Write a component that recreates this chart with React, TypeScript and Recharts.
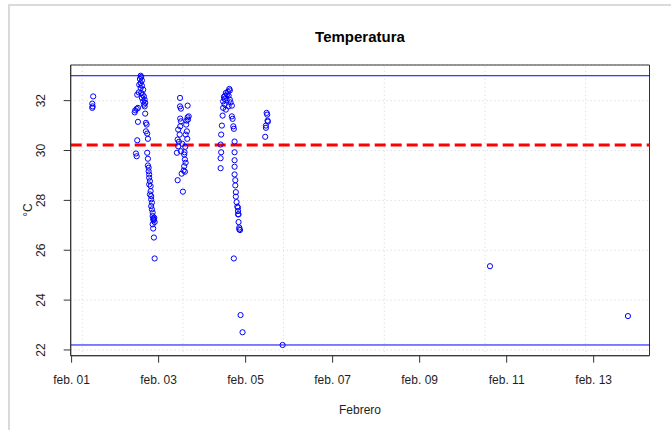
import React from 'react';
import {
  ScatterChart,
  Scatter,
  XAxis,
  YAxis,
  CartesianGrid,
  ReferenceLine,
  ReferenceArea,
} from 'recharts';

// hours since feb. 01 00:00, temperatures in °C
const feb01Hours = [11.9, 11.4, 11.6, 11.4];
const feb01Temps = [32.17, 31.88, 31.77, 31.71];

const feb02Hours = [
  38.1, 38.4, 37.7, 38.8, 38.1, 37.3, 38.8, 38.1, 39.5, 37.0, 36.2, 38.4, 39.2, 39.9, 38.8, 40.3, 39.5, 40.6, 39.9, 40.3,
  35.1, 34.8, 35.9, 36.6, 36.6, 36.2, 35.5, 35.9,
  40.6, 41.0, 41.4, 41.0, 41.7, 42.1, 41.7, 42.1, 42.1, 42.5, 42.5, 42.8, 42.8, 43.2, 42.8, 43.6, 43.6, 43.2, 43.9, 43.9,
  44.3, 43.9, 44.3, 44.7, 44.7, 45.0, 45.4, 45.8, 44.7, 45.0, 45.4, 45.8, 45.2, 45.6,
];
const feb02Temps = [
  33.0, 32.95, 32.87, 32.81, 32.71, 32.64, 32.6, 32.51, 32.44, 32.33, 32.24, 32.31, 32.24, 32.17, 32.11, 32.04, 31.97, 31.91, 31.84, 31.77,
  31.61, 31.53, 31.67, 31.71, 31.15, 30.41, 29.88, 29.77,
  31.48, 31.11, 31.04, 30.77, 30.68, 30.47, 29.91, 29.67, 29.4, 29.31, 29.17, 29.04, 28.91, 28.77, 28.64, 28.57, 28.37, 28.24, 28.17, 28.04,
  27.91, 27.77, 27.64, 27.51, 27.37, 27.27, 27.24, 27.13, 27.04, 26.87, 26.51, 25.67, 27.2, 27.3,
];

const feb03Hours = [
  59.8, 59.8, 60.3, 64.0, 59.9, 60.3, 64.0, 63.4, 59.9, 63.2, 58.8, 63.6, 59.6, 62.9, 58.5, 59.2, 58.8,
  61.0, 58.1, 60.3, 62.1, 62.5, 62.9, 62.1, 61.8, 62.5, 60.7, 58.5, 61.4, 64.6, 64.2, 63.8, 62.7, 62.3,
];
const feb03Temps = [
  32.11, 31.77, 31.68, 31.8, 31.28, 31.17, 31.33, 31.2, 30.97, 31.04, 30.84, 30.77, 30.64, 30.64, 30.44, 30.35, 30.17,
  30.27, 29.91, 29.97, 29.84, 29.64, 29.51, 29.37, 29.2, 29.15, 29.07, 28.81, 28.35, 31.37, 31.24, 30.47, 30.15, 29.93,
];

const feb04Hours = [
  87.0, 87.3, 86.2, 85.1, 85.8, 84.7, 84.0, 86.6, 84.4, 85.5, 83.6, 87.3, 87.7, 84.4, 88.4, 86.6, 83.6, 85.1,
  88.4, 88.8, 83.3, 82.9, 89.2, 89.5, 82.5, 82.2, 89.9, 82.5, 82.2, 82.2, 89.9, 89.9, 89.9, 89.9, 90.3, 90.3,
  90.6, 90.6, 91.0, 91.4, 91.8, 91.8, 92.1, 92.5, 92.5, 92.9, 91.8, 92.1, 89.5, 93.2, 94.3,
];
const feb04Temps = [
  32.47, 32.41, 32.36, 32.31, 32.25, 32.2, 32.15, 32.2, 32.07, 32.01, 31.97, 32.04, 31.93, 31.85, 31.8, 31.77, 31.71, 31.64,
  31.37, 31.27, 31.4, 31.0, 30.97, 30.87, 30.64, 30.24, 30.36, 29.93, 29.69, 29.29, 29.93, 29.61, 29.35, 29.04, 28.81, 28.6,
  28.33, 28.15, 27.93, 27.75, 27.57, 27.44, 27.13, 26.84, 26.91, 26.81, 27.71, 27.44, 25.67, 23.4, 22.71,
];

const feb05Hours = [107.6, 107.9, 108.3, 107.2, 107.2, 106.8, 108.1, 116.4];
const feb05Temps = [31.51, 31.44, 31.16, 31.0, 30.91, 30.55, 31.2, 22.2];

const laterHours = [230.8, 306.9];
const laterTemps = [25.36, 23.36];

const xTickHours = [0, 48, 96, 144, 192, 240, 288];
const xTickLabels = ['feb. 01', 'feb. 03', 'feb. 05', 'feb. 07', 'feb. 09', 'feb. 11', 'feb. 13'];
const yTicks = [22, 24, 26, 28, 30, 32];
// grid() puts its vertical lines at round seconds, not at the date ticks
const gridHours = [5.85, 61.4, 116.96, 172.5, 228.07, 283.6];

const tempMax = 33.0;
const tempMin = 22.2;
const tempMean = 30.22;

const xDomain: [number, number] = [-0.5, 318.8];
const yDomain: [number, number] = [21.77, 33.43];

const series = [
  [feb01Hours, feb01Temps],
  [feb02Hours, feb02Temps],
  [feb03Hours, feb03Temps],
  [feb04Hours, feb04Temps],
  [feb05Hours, feb05Temps],
  [laterHours, laterTemps],
];
const data = series.flatMap(([hours, temps]) => hours.map((hour, i) => ({ hour, temp: temps[i] })));

const FONT = '"Liberation Sans", Arial, sans-serif';
const INK = '#1e1e1e';

const XTick = (props: any) => {
  const { x, y, payload } = props;
  const label = xTickLabels[xTickHours.indexOf(payload.value)];
  return (
    <text x={x} y={y + 21.6} textAnchor="middle" fontSize={12} fontFamily={FONT} fill={INK}>
      {label}
    </text>
  );
};

const YTick = (props: any) => {
  const { x, y, payload } = props;
  const bx = x - 18.4;
  return (
    <text x={bx} y={y} transform={`rotate(-90 ${bx} ${y})`} textAnchor="middle" fontSize={12} fontFamily={FONT} fill={INK}>
      {payload.value}
    </text>
  );
};

const OpenCircle = (props: any) => (
  <circle cx={props.cx} cy={props.cy} r={2.6} fill="none" stroke="#0000ff" strokeWidth={1} />
);

export default function App() {
  return (
    <div style={{ position: 'absolute', left: 0, top: 0, width: 671, height: 430, background: '#fff', overflow: 'hidden' }}>
      {/* panel frame of the original screenshot */}
      <div
        style={{
          position: 'absolute',
          left: 8,
          top: 4,
          width: 680,
          height: 440,
          borderLeft: '2px solid #dadada',
          borderTop: '2px solid #dadada',
        }}
      />
      <ScatterChart width={671} height={430} margin={{ top: 65, right: 21.5, bottom: 14.3, left: 0 }}>
        <CartesianGrid horizontal={true} vertical={false} stroke="#d3d3d3" strokeDasharray="1 3" />
        {gridHours.map(h => (
          <ReferenceLine key={h} x={h} stroke="#d3d3d3" strokeDasharray="1 3" />
        ))}
        <XAxis
          type="number"
          dataKey="hour"
          domain={xDomain}
          ticks={xTickHours}
          allowDataOverflow={true}
          height={60}
          tickSize={7}
          tickMargin={0}
          tick={<XTick />}
          tickLine={{ stroke: '#333' }}
          axisLine={{ stroke: '#333' }}
        />
        <YAxis
          type="number"
          dataKey="temp"
          domain={yDomain}
          ticks={yTicks}
          allowDataOverflow={true}
          width={70.7}
          tickSize={7}
          tickMargin={0}
          tick={<YTick />}
          tickLine={{ stroke: '#333' }}
          axisLine={{ stroke: '#333' }}
        />
        <ReferenceArea x1={xDomain[0]} x2={xDomain[1]} y1={yDomain[0]} y2={yDomain[1]} fill="none" fillOpacity={0} stroke="#333" strokeOpacity={1} />
        <Scatter data={data} shape={<OpenCircle />} isAnimationActive={false} />
        <ReferenceLine y={tempMax} stroke="#0000ff" strokeWidth={1} />
        <ReferenceLine y={tempMin} stroke="#0000ff" strokeWidth={1} />
        <ReferenceLine y={tempMean} stroke="#ff0000" strokeWidth={3} strokeDasharray="11 5" />
      </ScatterChart>
      <svg width={671} height={430} style={{ position: 'absolute', left: 0, top: 0, pointerEvents: 'none' }}>
        <text x={360} y={42} textAnchor="middle" fontSize={15} fontWeight="bold" fontFamily={FONT} fill="#000">
          Temperatura
        </text>
        <text x={360} y={414.3} textAnchor="middle" fontSize={12} fontFamily={FONT} fill={INK}>
          Febrero
        </text>
        <text x={31.5} y={210} transform="rotate(-90 31.5 210)" textAnchor="middle" fontSize={12} fontFamily={FONT} fill={INK}>
          °C
        </text>
      </svg>
    </div>
  );
}
